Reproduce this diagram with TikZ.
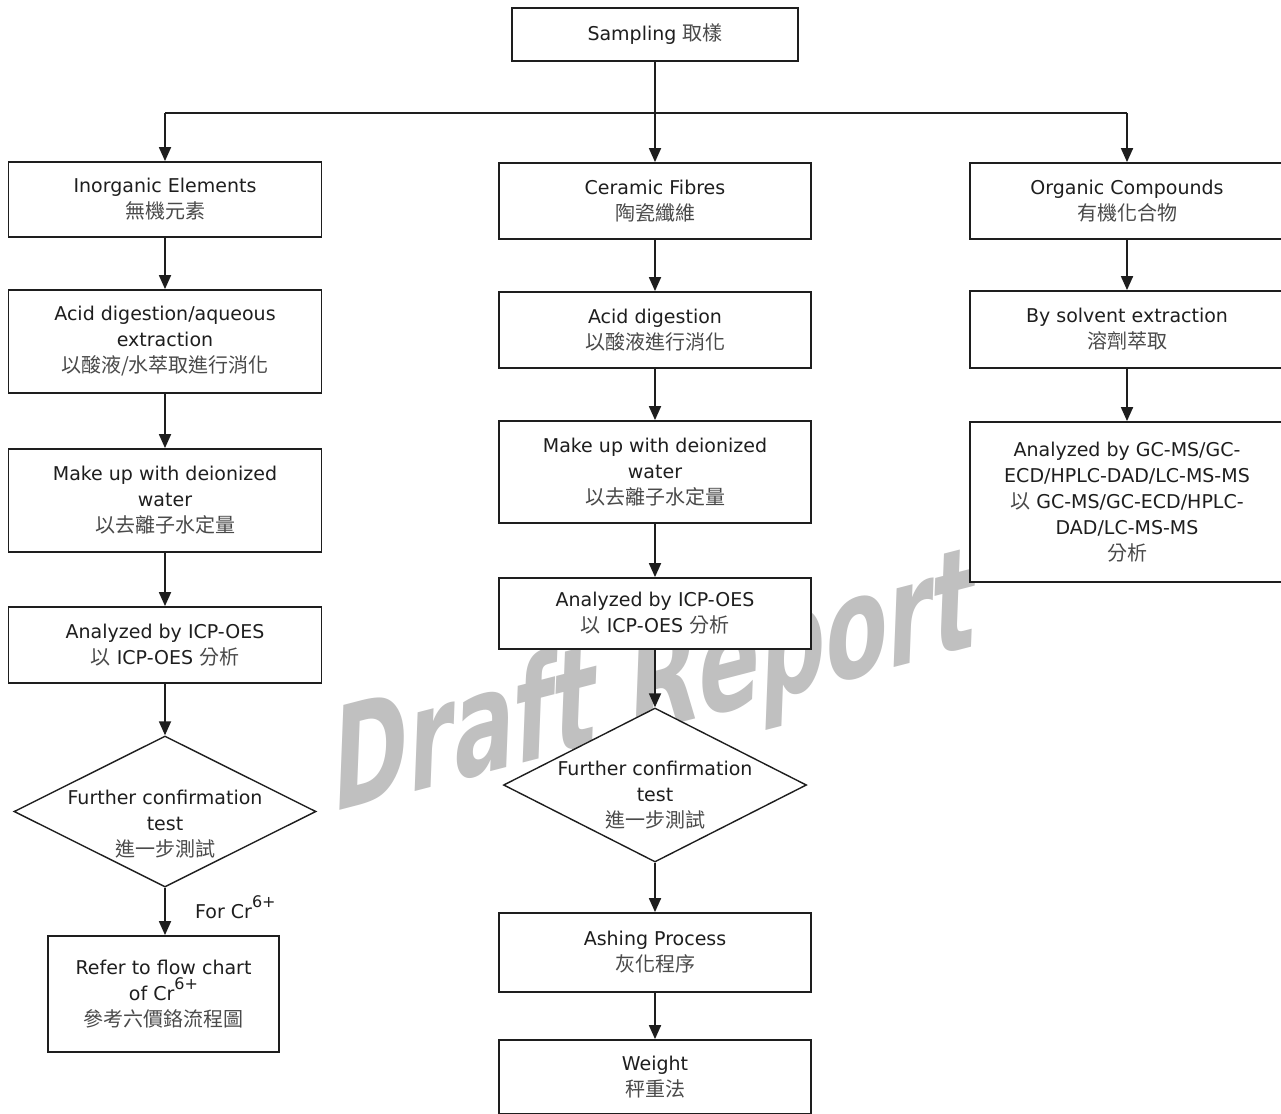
\documentclass[tikz,border=0pt]{standalone}
\usepackage{fontspec}
\setmainfont{DejaVu Sans}
\newfontfamily\cjk{Noto Sans CJK TC}
\newfontfamily\wmfont{DejaVu Sans}
\usetikzlibrary{arrows.meta,shapes.geometric}
\definecolor{ink}{HTML}{1E1E1E}
\definecolor{zhgray}{HTML}{4A4A4A}
\definecolor{wmgray}{HTML}{C0C0C0}
\newcommand\zh[1]{{\cjk\color{zhgray}\fontsize{20}{26}\selectfont #1}}
\newcommand\sups[1]{\raisebox{0.6em}{\fontsize{16}{16}\selectfont #1}}
\begin{document}
\begin{tikzpicture}[x=1pt,y=-1pt,
  box/.style={draw=ink, line width=1.8pt, fill=white, inner sep=0pt, align=center,
    font=\fontsize{19}{26}\selectfont, text=ink},
  dia/.style={draw=ink, line width=1.4pt, fill=white, diamond, inner sep=0pt},
  arr/.style={draw=ink, line width=1.8pt, -{Triangle[length=14pt,width=12pt]}},
  link/.style={draw=ink, line width=1.8pt},
  lbl/.style={inner sep=0pt, align=center, font=\fontsize{19}{26}\selectfont, text=ink}]
\useasboundingbox (0,0) rectangle (1281,1113);
\fill[white] (0,0) rectangle (1281,1113);

% watermark
\node[text=wmgray, inner sep=0pt, rotate=14.5, xslant=0.3, xscale=0.68,
  font=\wmfont\bfseries\fontsize{138}{138}\selectfont] (wm) at (655,690) {Draft Report};

% top
\node[box, minimum width=286pt, minimum height=53pt] (samp) at (655,34.5) {Sampling \zh{取樣}};
\coordinate (j) at (655,113);
\coordinate (jl) at (165,113);
\coordinate (jr) at (1127,113);

% left column
\node[box, minimum width=313pt, minimum height=75pt] (ino) at (165,199.5) {Inorganic Elements\\\zh{無機元素}};
\node[box, minimum width=313pt, minimum height=103pt] (acid1) at (165,341.5) {Acid digestion/aqueous\\extraction\\\zh{以酸液/水萃取進行消化}};
\node[box, minimum width=313pt, minimum height=103pt] (make1) at (165,500.5) {Make up with deionized\\water\\\zh{以去離子水定量}};
\node[box, minimum width=313pt, minimum height=76pt] (icp1) at (165,645) {Analyzed by ICP-OES\\\zh{以} ICP-OES \zh{分析}};
\node[dia, minimum width=302pt, minimum height=151pt] (dia1) at (165,811.5) {};
\node[lbl] (dia1t) at (165,824) {Further confirmation\\test\\\zh{進一步測試}};
\node[box, minimum width=231pt, minimum height=116pt] (refer) at (163.5,994) {Refer to flow chart\\of Cr\sups{6+}\\\zh{參考六價鉻流程圖}};
\node[lbl, anchor=west] (forcr) at (195,907) {For Cr\sups{6+}};

% centre column
\node[box, minimum width=312pt, minimum height=76pt] (cer) at (655,201) {Ceramic Fibres\\\zh{陶瓷纖維}};
\node[box, minimum width=312pt, minimum height=76pt] (acid2) at (655,330) {Acid digestion\\\zh{以酸液進行消化}};
\node[box, minimum width=312pt, minimum height=102pt] (make2) at (655,472) {Make up with deionized\\water\\\zh{以去離子水定量}};
\node[box, minimum width=312pt, minimum height=71pt] (icp2) at (655,613.5) {Analyzed by ICP-OES\\\zh{以} ICP-OES \zh{分析}};
\node[dia, minimum width=303pt, minimum height=154pt] (dia2) at (655,785) {};
\node[lbl] (dia2t) at (655,795) {Further confirmation\\test\\\zh{進一步測試}};
\node[box, minimum width=312pt, minimum height=79pt] (ash) at (655,952.5) {Ashing Process\\\zh{灰化程序}};
\node[box, minimum width=312pt, minimum height=74pt] (wgt) at (655,1077) {Weight\\\zh{秤重法}};

% right column
\node[box, minimum width=314pt, minimum height=76pt] (org) at (1127,201) {Organic Compounds\\\zh{有機化合物}};
\node[box, minimum width=314pt, minimum height=77pt] (solv) at (1127,329.5) {By solvent extraction\\\zh{溶劑萃取}};
\node[box, minimum width=314pt, minimum height=160pt] (anal) at (1127,502) {Analyzed by GC-MS/GC-\\ECD/HPLC-DAD/LC-MS-MS\\\zh{以} GC-MS/GC-ECD/HPLC-\\DAD/LC-MS-MS\\\zh{分析}};

% connectors
\draw[link] (samp.south) -- (j);
\draw[link] (jl) -- (jr);
\draw[arr] (jl) -- (ino.north);
\draw[arr] (j) -- (cer.north);
\draw[arr] (jr) -- (org.north);

\draw[arr] (ino) -- (acid1);
\draw[arr] (acid1) -- (make1);
\draw[arr] (make1) -- (icp1);
\draw[arr] (icp1) -- (dia1.north);
\draw[arr] (dia1.south) -- (refer.north -| dia1.south);

\draw[arr] (cer) -- (acid2);
\draw[arr] (acid2) -- (make2);
\draw[arr] (make2) -- (icp2);
\draw[arr] (icp2) -- (dia2.north);
\draw[arr] (dia2.south) -- (ash.north);
\draw[arr] (ash) -- (wgt);

\draw[arr] (org) -- (solv);
\draw[arr] (solv) -- (anal);
\end{tikzpicture}
\end{document}
